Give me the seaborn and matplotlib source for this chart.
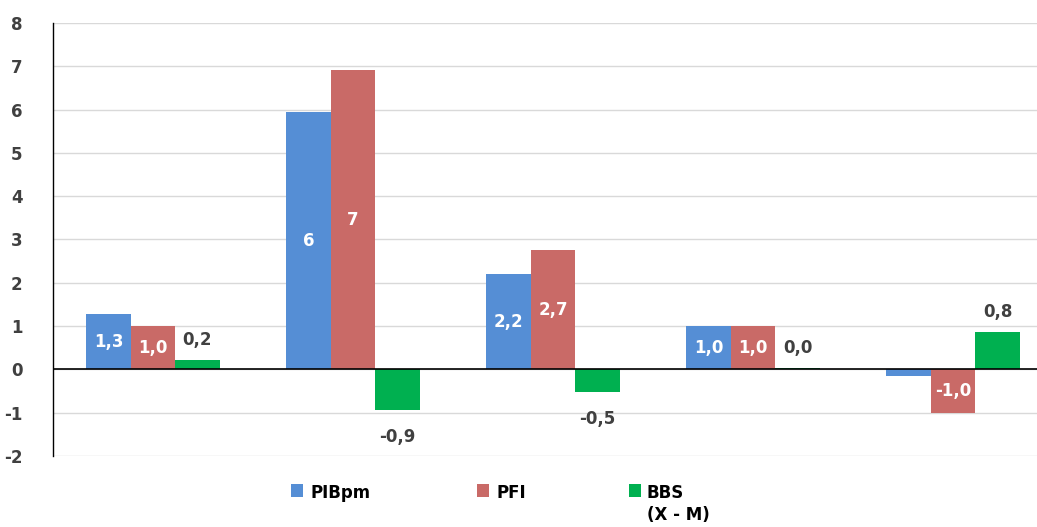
import matplotlib
matplotlib.use("Agg")
import matplotlib.pyplot as plt
import seaborn as sns
import pandas as pd
from matplotlib.patches import Rectangle

categories = ["G1", "G2", "G3", "G4", "G5"]
series = ["PIBpm", "PFI", "BBS\n(X - M)"]
pibpm = [1.28, 5.95, 2.2, 1.0, -0.15]
pfi = [1.0, 6.92, 2.76, 1.0, -1.0]
bbs = [0.22, -0.93, -0.53, 0.04, 0.86]
pibpm_labels = ["1,3", "6", "2,2", "1,0", ""]
pfi_labels = ["1,0", "7", "2,7", "1,0", "-1,0"]
bbs_labels = ["0,2", "-0,9", "-0,5", "0,0", "0,8"]
yticks = [-2, -1, 0, 1, 2, 3, 4, 5, 6, 7, 8]

colors = ["#558ED5", "#C96A67", "#00B050"]

rows = []
for s, vals in zip(series, [pibpm, pfi, bbs]):
    for c, v in zip(categories, vals):
        rows.append({"cat": c, "series": s, "value": v})
df = pd.DataFrame(rows)

sns.set_style("white")
plt.rcParams["font.family"] = ["DejaVu Sans"]
plt.rcParams["font.weight"] = "bold"

fig = plt.figure(figsize=(10.37, 5.27), dpi=100)
W, H = 1037, 527
ax = fig.add_axes([53 / W, 1 - 456 / H, 1000 / W, 433 / H])

sns.barplot(data=df, x="cat", y="value", hue="series", order=categories,
            hue_order=series, palette=colors, width=0.667, ax=ax,
            saturation=1, legend=False, errorbar=None)

ax.set_ylim(-2, 8)
ax.set_xlim(-0.5, 4.5)
ax.set_yticks(yticks)
ax.set_yticklabels([str(t) for t in yticks], color="#404040", fontsize=12,
                   fontweight="bold")
ax.tick_params(axis="y", length=0, pad=22)
ax.set_xticks([])
ax.set_xlabel("")
ax.set_ylabel("")
ax.grid(axis="y", color="#D9D9D9", linewidth=1)
ax.set_axisbelow(True)
for sp in ["top", "right", "bottom"]:
    ax.spines[sp].set_visible(False)
ax.spines["left"].set_color("black")
ax.spines["left"].set_linewidth(1)
ax.axhline(0, color="black", linewidth=1.2, zorder=3)

for bar in ax.patches:
    bar.set_edgecolor("none")

conts = ax.containers
ax.bar_label(conts[0], labels=pibpm_labels, label_type="center", color="white",
             fontsize=12, fontweight="bold")
ax.bar_label(conts[1], labels=pfi_labels, label_type="center", color="white",
             fontsize=12, fontweight="bold")
for bar, lab, v in zip(conts[2], bbs_labels, bbs):
    x = bar.get_x() + bar.get_width() / 2
    if v >= 0:
        ax.annotate(lab, (x, v), xytext=(0, 8), textcoords="offset points",
                    ha="center", va="bottom", color="#404040", fontsize=12,
                    fontweight="bold")
    else:
        ax.annotate(lab, (x, v), xytext=(0, -13), textcoords="offset points",
                    ha="center", va="top", color="#404040", fontsize=12,
                    fontweight="bold")

# legend drawn manually (handle aligned with first text line)
sq_x = [291, 477, 629]
tx_x = [310, 496, 647]
for c, s, sx, tx in zip(colors, series, sq_x, tx_x):
    fig.patches.append(Rectangle((sx / W, 1 - 497 / H), 12 / W, 13 / H,
                                 transform=fig.transFigure, facecolor=c,
                                 edgecolor="none"))
    fig.text(tx / W, 1 - 484 / H, s, ha="left", va="top", fontsize=12,
             fontweight="bold", color="black", linespacing=1.25)

fig.savefig("out.png", dpi=100)
